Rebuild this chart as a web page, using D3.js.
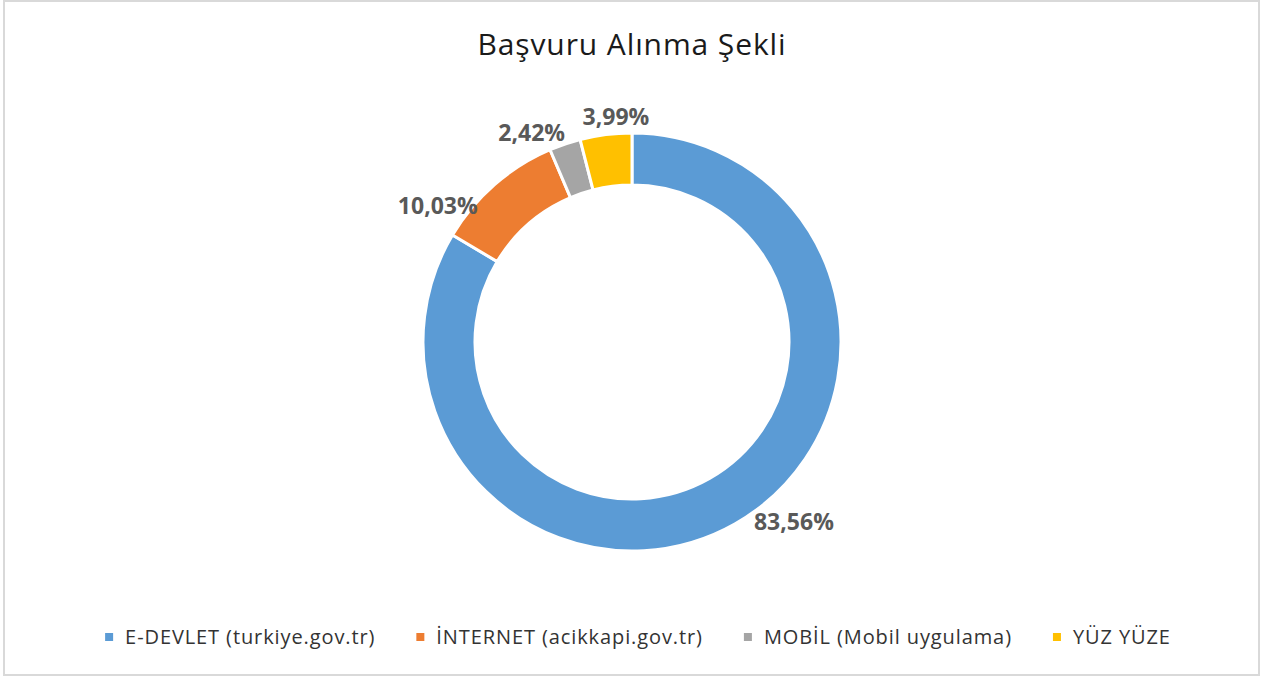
<!DOCTYPE html>
<html>
<head>
<meta charset="utf-8">
<script src="https://cdn.jsdelivr.net/npm/d3@7"></script>
<style>
  html, body { margin: 0; padding: 0; background: #fff; }
  svg { display: block; }
</style>
</head>
<body>
<svg id="chart" width="1266" height="679"></svg>
<script>
// Application channel shares (%)
const categories = ["E-DEVLET (turkiye.gov.tr)", "İNTERNET (acikkapi.gov.tr)", "MOBİL (Mobil uygulama)", "YÜZ YÜZE"];
const values = [83.56, 10.03, 2.42, 3.99];
const valueLabels = ["83,56%", "10,03%", "2,42%", "3,99%"];
const colors = ["#5B9BD5", "#ED7D31", "#A5A5A5", "#FFC000"];

// Hand-placed label positions, given as polar nudges relative to each slice
const labelAngleShift = [-12.4, -13.9, -6.9, 3.1];   // degrees
const labelRadius = [242, 237, 232, 226];

const W = 1266, H = 679;
const cx = 632, cy = 342;
const outerR = 209, innerR = 157;
const font = "'Open Sans', 'Noto Sans', sans-serif";

const svg = d3.select("#chart");

// chart frame
svg.append("rect")
  .attr("x", 4).attr("y", 1)
  .attr("width", 1255).attr("height", 674)
  .attr("fill", "#fff")
  .attr("stroke", "#d9d9d9").attr("stroke-width", 2);

// title
svg.append("text")
  .attr("x", cx).attr("y", 55)
  .attr("text-anchor", "middle")
  .attr("font-family", font)
  .attr("font-size", 30)
  .attr("letter-spacing", 0.9)
  .attr("fill", "#1a1a1a")
  .text("Başvuru Alınma Şekli");

const data = categories.map((c, i) => ({ name: c, value: values[i], label: valueLabels[i], color: colors[i], i }));

const pie = d3.pie().value(d => d.value).sort(null);
const arc = d3.arc().innerRadius(innerR).outerRadius(outerR);

const g = svg.append("g").attr("transform", `translate(${cx},${cy})`);
const arcs = pie(data);

g.selectAll("path.slice")
  .data(arcs)
  .join("path")
  .attr("class", "slice")
  .attr("d", arc)
  .attr("fill", d => d.data.color)
  .attr("stroke", "#fff")
  .attr("stroke-width", 3)
  .attr("stroke-linejoin", "miter");

// value labels
g.selectAll("text.val")
  .data(arcs)
  .join("text")
  .attr("class", "val")
  .attr("transform", d => {
    const mid = (d.startAngle + d.endAngle) / 2 + labelAngleShift[d.index] * Math.PI / 180;
    const r = labelRadius[d.index];
    return `translate(${r * Math.sin(mid)},${-r * Math.cos(mid)})`;
  })
  .attr("text-anchor", "middle")
  .attr("dy", "0.35em")
  .attr("font-family", font)
  .attr("font-weight", "bold")
  .attr("font-size", 23)
  .attr("fill", "#595959")
  .text(d => d.data.label);

// legend
const legendY = 637;
const sq = 8, sqGap = 12, itemGap = 41;
const legend = svg.append("g");
const items = legend.selectAll("g.item").data(data).join("g").attr("class", "item");
items.append("rect")
  .attr("width", sq).attr("height", sq)
  .attr("y", legendY - sq / 2)
  .attr("fill", d => d.color);
items.append("text")
  .attr("x", sq + sqGap)
  .attr("y", legendY)
  .attr("dy", "0.35em")
  .attr("font-family", font)
  .attr("font-size", 20)
  .attr("letter-spacing", 0.9)
  .attr("fill", "#333")
  .text(d => d.name);

let widths = [];
items.each(function () {
  widths.push(sq + sqGap + this.querySelector("text").getComputedTextLength());
});
const total = d3.sum(widths) + itemGap * (widths.length - 1);
let x0 = 638 - total / 2;
items.attr("transform", (d, i) => {
  const t = `translate(${x0},0)`;
  x0 += widths[i] + itemGap;
  return t;
});
</script>
</body>
</html>
